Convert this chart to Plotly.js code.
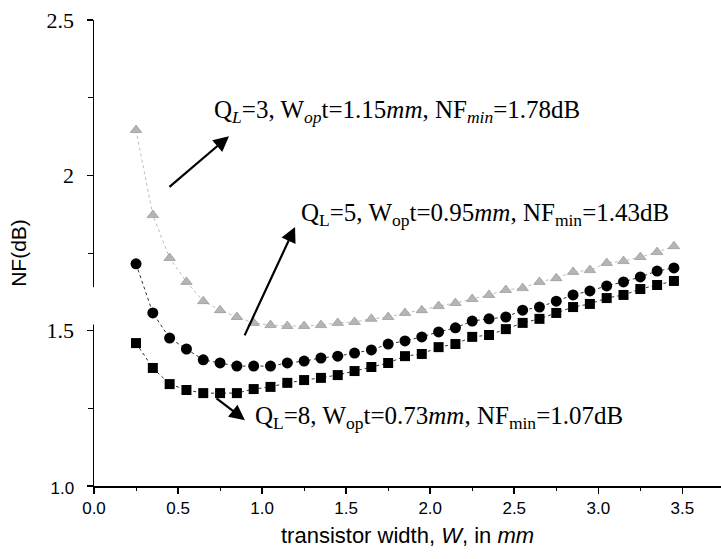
<!DOCTYPE html>
<html>
<head>
<meta charset="utf-8">
<script src="https://cdn.plot.ly/plotly-3.0.1.min.js"></script>
<style>html,body{margin:0;padding:0;background:#fff;}#chart{width:721px;height:559px;}</style>
</head>
<body>
<div id="chart"></div>
<script>
// transistor width W (mm)
const widthMm = [0.25,0.35,0.45,0.55,0.65,0.75,0.85,0.95,1.05,1.15,1.25,1.35,1.45,1.55,1.65,1.75,1.85,1.95,2.05,2.15,2.25,2.35,2.45,2.55,2.65,2.75,2.85,2.95,3.05,3.15,3.25,3.35,3.45];
// NF (dB) for QL = 3 (grey triangles)
const nfQ3 = [2.146,1.872,1.734,1.657,1.595,1.566,1.544,1.525,1.518,1.515,1.515,1.518,1.525,1.528,1.538,1.544,1.557,1.566,1.579,1.589,1.602,1.615,1.631,1.637,1.657,1.669,1.689,1.695,1.718,1.724,1.737,1.753,1.772];
// NF (dB) for QL = 5 (circles)
const nfQ5 = [1.715,1.557,1.476,1.441,1.406,1.396,1.386,1.386,1.386,1.396,1.402,1.412,1.418,1.428,1.438,1.457,1.467,1.480,1.496,1.509,1.531,1.538,1.544,1.566,1.576,1.595,1.615,1.628,1.644,1.657,1.673,1.692,1.702];
// NF (dB) for QL = 8 (squares)
const nfQ8 = [1.460,1.380,1.328,1.309,1.299,1.299,1.299,1.312,1.319,1.332,1.341,1.348,1.357,1.370,1.383,1.396,1.418,1.425,1.447,1.457,1.480,1.486,1.505,1.525,1.538,1.557,1.576,1.586,1.605,1.615,1.634,1.647,1.660];

const xTickVals = [0,0.5,1.0,1.5,2.0,2.5,3.0,3.5];
const xTickText = ["0.0","0.5","1.0","1.5","2.0","2.5","3.0","3.5"];
const yTickVals = [1.0,1.5,2.0,2.5];
const yTickLabels = ["1.0","1.5","2","2.5"];

const annTexts = [
  "Q<sub><i>L</i></sub>=3, W<sub><i>op</i></sub>t=1.15<i>mm</i>, NF<sub><i>min</i></sub>=1.78dB",
  "Q<sub>L</sub>=5, W<sub>op</sub>t=0.95<i>mm</i>, NF<sub>min</sub>=1.43dB",
  "Q<sub>L</sub>=8, W<sub>op</sub>t=0.73<i>mm</i>, NF<sub>min</sub>=1.07dB"
];

const serif = "Liberation Serif, Times New Roman, serif";
const sans = "Liberation Sans, Arial, sans-serif";

const yTickText = yTickLabels.map((t, i) => i === 0
  ? '<span style="font-family:\'Liberation Sans\';font-size:17px">' + t + '</span>'
  : '<span style="font-family:\'Liberation Serif\';font-size:22px">' + t + '</span>');

const traces = [
  {x: widthMm, y: nfQ3, type: "scatter", mode: "lines+markers",
   line: {color: "#bdbdbd", width: 1, dash: "dot"},
   marker: {symbol: "triangle-up", size: 10, color: "#b5b5b5", line: {color: "#8c8c8c", width: 0.6}}},
  {x: widthMm, y: nfQ5, type: "scatter", mode: "lines+markers",
   line: {color: "#333", width: 1, dash: "3px,3px"},
   marker: {symbol: "circle", size: 11, color: "#000"}},
  {x: widthMm, y: nfQ8, type: "scatter", mode: "lines+markers",
   line: {color: "#333", width: 1, dash: "3px,3px"},
   marker: {symbol: "square", size: 10, color: "#000"}}
];

function arrow(x0, y0, x1, y1) {
  return {x: x1, y: y1, ax: x0, ay: y0, xref: "x", yref: "y", axref: "x", ayref: "y",
    text: "", showarrow: true, arrowhead: 2, arrowsize: 1.4, arrowwidth: 2.2, arrowcolor: "#000"};
}
function label(t, x, y) {
  return {x: x, y: y, xref: "x", yref: "y", text: t, showarrow: false, xanchor: "left", yanchor: "middle",
    font: {family: serif, size: 25, color: "#000"}};
}

const layout = {
  width: 721, height: 559,
  margin: {l: 94, r: 0, t: 20, b: 73},
  paper_bgcolor: "#fff", plot_bgcolor: "#fff",
  showlegend: false,
  xaxis: {
    range: [0, 3.73], tickvals: xTickVals, ticktext: xTickText,
    showgrid: false, zeroline: false, showline: true, linecolor: "#000", linewidth: 1.5,
    ticks: "outside", ticklen: 6, tickwidth: 1.5, tickcolor: "#000",
    minor: {tickvals: [0.25,0.75,1.25,1.75,2.25,2.75,3.25], ticks: "outside", ticklen: 3, tickcolor: "#000", tickwidth: 1},
    tickfont: {family: sans, size: 17, color: "#000"},
    title: {text: "transistor width, <i>W</i>, in <i>mm</i>", font: {family: sans, size: 22, color: "#000"}, standoff: 10}
  },
  yaxis: {
    range: [1.0, 2.5], tickvals: yTickVals, ticktext: yTickText,
    showgrid: false, zeroline: false, showline: true, linecolor: "#000", linewidth: 1.5,
    ticks: "outside", ticklen: 6, tickwidth: 1.5, tickcolor: "#000", ticklabelstandoff: 8,
    minor: {tickvals: [1.25,1.75,2.25], ticks: "outside", ticklen: 5, tickcolor: "#000", tickwidth: 1},
    tickfont: {family: serif, size: 22, color: "#000"},
    title: {text: "NF(dB)", font: {family: sans, size: 21, color: "#000"}, standoff: 14}
  },
  shapes: [
    {type: "rect", xref: "paper", yref: "y", x0: -0.012, x1: 0.006, y0: 1.52, y1: 1.64,
     fillcolor: "#fff", line: {width: 0}, layer: "above"}
  ],
  annotations: [
    label(annTexts[0], 0.70, 2.204),
    label(annTexts[1], 1.220, 1.875),
    label(annTexts[2], 0.946, 1.219),
    arrow(0.440, 1.959, 0.803, 2.126),
    arrow(0.892, 1.480, 1.196, 1.834),
    arrow(0.720, 1.286, 0.898, 1.212)
  ]
};

Plotly.newPlot("chart", traces, layout, {displayModeBar: false, staticPlot: true});
</script>
</body>
</html>
